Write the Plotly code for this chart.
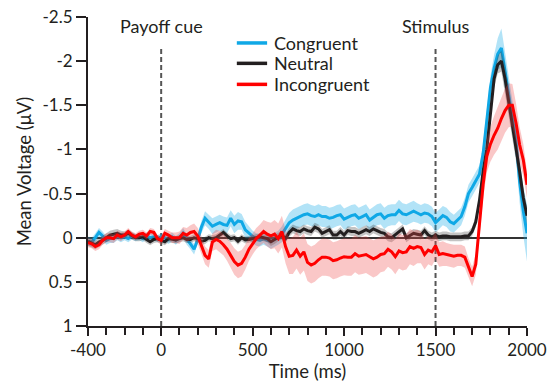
import plotly.graph_objects as go

# ---------------- data ----------------
time_ms = list(range(-400, 2001, 20))

congruent = [
    0.04, 0.05, 0.0, -0.06, -0.02, 0.03, 0.01, 0.01, -0.02, 0.0,
    -0.01, 0.01, -0.02, 0.0, -0.01, 0.01, -0.02, 0.0, -0.01, 0.01,
    -0.01, 0.0, 0.02, -0.01, 0.03, 0.0, -0.05, 0.02, 0.07, 0.13,
    0.02, -0.12, -0.22, -0.18, -0.13, -0.15, -0.17, -0.15, -0.14, -0.22,
    -0.15, -0.19, -0.18, -0.09, -0.05, -0.01, 0.02, 0.03, 0.01, 0.03,
    0.045, 0.02, 0.0, -0.04, -0.1, -0.17, -0.2, -0.22, -0.24, -0.26,
    -0.27, -0.25, -0.24, -0.26, -0.24, -0.24, -0.22, -0.23, -0.25, -0.26,
    -0.21, -0.23, -0.25, -0.26, -0.22, -0.24, -0.26, -0.2, -0.23, -0.26,
    -0.27, -0.22, -0.25, -0.26, -0.26, -0.31, -0.27, -0.26, -0.28, -0.3,
    -0.28, -0.26, -0.28, -0.27, -0.24, -0.17, -0.21, -0.25, -0.23, -0.18,
    -0.16, -0.2, -0.24, -0.35, -0.5, -0.57, -0.64, -0.72, -0.95, -1.3,
    -1.7, -1.92, -2.08, -2.15, -1.88, -1.62, -1.38, -1.1, -0.63, -0.3,
    -0.05,
]
congruent_sem = [
    0.05, 0.05, 0.05, 0.05, 0.05, 0.05, 0.05, 0.05, 0.05, 0.05,
    0.04, 0.04, 0.04, 0.04, 0.04, 0.04, 0.04, 0.04, 0.04, 0.04,
    0.04, 0.04, 0.05, 0.05, 0.05, 0.05, 0.06, 0.06, 0.06, 0.06,
    0.06, 0.07, 0.08, 0.08, 0.09, 0.09, 0.09, 0.09, 0.09, 0.09,
    0.1, 0.1, 0.09, 0.09, 0.08, 0.07, 0.07, 0.07, 0.07, 0.07,
    0.08, 0.08, 0.08, 0.09, 0.1, 0.11, 0.12, 0.12, 0.12, 0.12,
    0.12, 0.12, 0.12, 0.12, 0.12, 0.12, 0.12, 0.12, 0.12, 0.12,
    0.12, 0.12, 0.12, 0.12, 0.12, 0.12, 0.12, 0.12, 0.12, 0.12,
    0.12, 0.12, 0.12, 0.12, 0.12, 0.12, 0.12, 0.12, 0.12, 0.12,
    0.11, 0.11, 0.11, 0.11, 0.11, 0.11, 0.11, 0.11, 0.11, 0.11,
    0.1, 0.1, 0.1, 0.1, 0.1, 0.1, 0.1, 0.1, 0.11, 0.12,
    0.13, 0.15, 0.18, 0.22, 0.2, 0.18, 0.18, 0.2, 0.24, 0.28,
    0.32,
]

neutral = [
    0.04, 0.06, 0.08, 0.05, 0.03, 0.0, -0.03, -0.04, -0.05, -0.03,
    -0.03, -0.05, -0.02, 0.0, 0.0, -0.01, 0.02, 0.045, 0.02, 0.01,
    0.03, 0.045, 0.01, 0.02, 0.025, 0.01, 0.0, 0.02, 0.02, 0.0,
    0.01, 0.04, 0.03, 0.0, 0.01, 0.0, -0.03, -0.06, -0.02, 0.01,
    0.0, 0.04, 0.0, 0.025, 0.02, 0.01, 0.0, -0.01, 0.0, 0.01,
    0.045, 0.02, -0.01, -0.03, 0.01, -0.06, -0.1, -0.08, -0.07, -0.1,
    -0.08, -0.07, -0.12, -0.1, -0.05, -0.07, -0.09, -0.03, -0.03, -0.07,
    -0.03, -0.08, -0.07, -0.07, -0.05, -0.07, -0.09, -0.07, -0.1, -0.08,
    -0.06, -0.05, -0.01, 0.0, -0.03, -0.06, -0.1, 0.0, -0.03, -0.05,
    -0.04, -0.03, -0.08, -0.03, -0.01, -0.03, -0.01, -0.02, -0.02, -0.01,
    -0.01, -0.01, -0.01, -0.02, -0.02, -0.07, -0.18, -0.42, -0.75, -1.0,
    -1.43, -1.8, -1.96, -2.0, -1.8, -1.55, -1.27, -1.0, -0.75, -0.45,
    -0.25,
]
neutral_sem = [
    0.05, 0.05, 0.05, 0.05, 0.05, 0.05, 0.05, 0.05, 0.05, 0.05,
    0.04, 0.04, 0.04, 0.04, 0.04, 0.04, 0.04, 0.04, 0.04, 0.04,
    0.04, 0.04, 0.04, 0.04, 0.04, 0.04, 0.04, 0.04, 0.04, 0.04,
    0.04, 0.04, 0.04, 0.04, 0.04, 0.04, 0.04, 0.04, 0.04, 0.04,
    0.04, 0.04, 0.04, 0.04, 0.04, 0.04, 0.04, 0.04, 0.04, 0.04,
    0.05, 0.05, 0.05, 0.05, 0.05, 0.05, 0.05, 0.05, 0.05, 0.05,
    0.05, 0.05, 0.05, 0.05, 0.05, 0.05, 0.05, 0.05, 0.05, 0.05,
    0.05, 0.05, 0.05, 0.05, 0.05, 0.05, 0.05, 0.05, 0.05, 0.05,
    0.05, 0.05, 0.05, 0.05, 0.05, 0.05, 0.05, 0.05, 0.05, 0.05,
    0.05, 0.05, 0.05, 0.05, 0.05, 0.05, 0.05, 0.05, 0.05, 0.05,
    0.05, 0.05, 0.05, 0.05, 0.05, 0.05, 0.06, 0.07, 0.08, 0.09,
    0.1, 0.1, 0.1, 0.12, 0.16, 0.16, 0.15, 0.13, 0.11, 0.1,
    0.1,
]

incongruent = [
    0.057, 0.07, 0.1, 0.08, 0.03, 0.0, 0.0, 0.01, -0.03, -0.01,
    -0.03, -0.07, -0.03, -0.01, -0.04, -0.05, -0.02, -0.07, -0.06, 0.01,
    0.03, -0.05, -0.03, 0.0, 0.0, 0.0, -0.05, -0.03, -0.06, -0.07,
    -0.02, 0.08, 0.2, 0.24, 0.05, 0.02, 0.04, 0.08, 0.13, 0.2,
    0.27, 0.31, 0.29, 0.22, 0.13, 0.07, 0.01, -0.03, -0.07, -0.04,
    -0.02, -0.04, 0.01, -0.07, 0.1, 0.21, 0.2, 0.14, 0.21, 0.16,
    0.28, 0.31, 0.29, 0.25, 0.22, 0.22, 0.23, 0.26, 0.25, 0.23,
    0.215, 0.22, 0.22, 0.18, 0.21, 0.2, 0.19, 0.215, 0.24, 0.22,
    0.19, 0.18, 0.13, 0.16, 0.215, 0.15, 0.17, 0.16, 0.1, 0.12,
    0.1, 0.11, 0.19, 0.14, 0.16, 0.09, 0.19, 0.18, 0.19, 0.2,
    0.21, 0.2, 0.2, 0.22, 0.34, 0.44, 0.3, -0.15, -0.6, -0.92,
    -1.06, -1.16, -1.24, -1.35, -1.44, -1.5, -1.5, -1.3, -1.05, -0.88,
    -0.6,
]
incongruent_sem = [
    0.05, 0.05, 0.05, 0.05, 0.05, 0.05, 0.05, 0.05, 0.05, 0.05,
    0.04, 0.04, 0.04, 0.04, 0.04, 0.04, 0.04, 0.04, 0.04, 0.04,
    0.05, 0.05, 0.05, 0.06, 0.06, 0.07, 0.07, 0.08, 0.08, 0.09,
    0.09, 0.1, 0.1, 0.1, 0.1, 0.11, 0.12, 0.12, 0.13, 0.14,
    0.15, 0.15, 0.15, 0.14, 0.13, 0.12, 0.12, 0.12, 0.13, 0.14,
    0.15, 0.16, 0.17, 0.18, 0.19, 0.2, 0.21, 0.21, 0.21, 0.21,
    0.21, 0.21, 0.21, 0.21, 0.21, 0.21, 0.21, 0.21, 0.21, 0.21,
    0.21, 0.21, 0.21, 0.21, 0.21, 0.21, 0.21, 0.21, 0.21, 0.21,
    0.2, 0.2, 0.2, 0.2, 0.2, 0.2, 0.2, 0.2, 0.2, 0.2,
    0.19, 0.18, 0.17, 0.16, 0.16, 0.15, 0.14, 0.14, 0.13, 0.13,
    0.13, 0.12, 0.12, 0.12, 0.11, 0.11, 0.12, 0.14, 0.16, 0.18,
    0.2, 0.22, 0.24, 0.25, 0.25, 0.25, 0.24, 0.22, 0.2, 0.18,
    0.15,
]

series_names = ["Congruent", "Neutral", "Incongruent"]
y_tickvals = [-2.5, -2, -1.5, -1, -0.5, 0, 0.5, 1]
y_ticktext = ["-2.5", "-2", "-1.5", "-1", "-0.5", "0", "0.5", "1"]
x_tickvals = [-400, 0, 500, 1000, 1500, 2000]
x_ticktext = ["-400", "0", "500", "1000", "1500", "2000"]
x_minor_ticks = list(range(-400, 2001, 100))

event_times = [0, 1500]
event_labels = ["Payoff cue", "Stimulus"]

for arr in (congruent, congruent_sem, neutral, neutral_sem, incongruent, incongruent_sem):
    assert len(arr) == len(time_ms), len(arr)

# ---------------- styling ----------------
FONT = "Lato"
INK = "#231F20"
line_colors = ["#0FA8E6", "#231F20", "#FF0000"]
band_colors = ["rgba(20,170,232,0.33)", "rgba(60,60,60,0.30)", "rgba(240,70,70,0.30)"]
means = [congruent, neutral, incongruent]
sems = [congruent_sem, neutral_sem, incongruent_sem]

fig = go.Figure()
for name, mean, sem, color, band in zip(series_names, means, sems, line_colors, band_colors):
    upper = [m - s for m, s in zip(mean, sem)]
    lower = [m + s for m, s in zip(mean, sem)]
    fig.add_trace(go.Scatter(
        x=time_ms + time_ms[::-1], y=upper + lower[::-1],
        fill="toself", fillcolor=band, line=dict(width=0),
        mode="lines", hoverinfo="skip", showlegend=False))
    fig.add_trace(go.Scatter(
        x=time_ms, y=mean, mode="lines", name=name, showlegend=False,
        line=dict(color=color, width=3)))

# event markers (dashed) and their labels
for t, label in zip(event_times, event_labels):
    fig.add_shape(type="line", x0=t, x1=t, y0=1, y1=-2.14, xref="x", yref="y",
                  line=dict(color="#555555", width=2, dash="5px,3px"), layer="below")
    fig.add_annotation(x=t, y=-2.4, xref="x", yref="y", text=label, showarrow=False,
                       font=dict(family=FONT, size=18, color=INK),
                       xanchor="center", yanchor="middle")

# compact legend (key line + label), placed like the original
LEG_X0, LEG_X1, LEG_TX = 0.339, 0.408, 0.418
leg_rows = [0.916, 0.850, 0.782]
for name, color, yy in zip(series_names, line_colors, leg_rows):
    fig.add_shape(type="line", xref="paper", yref="paper", x0=LEG_X0, x1=LEG_X1,
                  y0=yy, y1=yy, line=dict(color=color, width=3.5))
    fig.add_annotation(xref="paper", yref="paper", x=LEG_TX, y=yy, text=name,
                       showarrow=False, xanchor="left", yanchor="middle",
                       font=dict(family=FONT, size=18, color=INK))

fig.update_layout(
    width=551, height=385,
    margin=dict(l=88, r=24, t=17, b=59),
    paper_bgcolor="white", plot_bgcolor="white",
    font=dict(family=FONT, size=17, color=INK),
    showlegend=False,
    xaxis=dict(range=[-400, 2000], showgrid=False, zeroline=False, automargin=False,
               showline=True, linecolor=INK, linewidth=2,
               ticks="outside", ticklen=8, tickwidth=1.5, tickcolor=INK,
               tickvals=x_tickvals, ticktext=x_ticktext,
               tickfont=dict(family=FONT, size=17, color=INK),
               minor=dict(tickvals=x_minor_ticks, ticks="outside", ticklen=7,
                          tickwidth=1.5, tickcolor=INK),
               title=dict(text="Time (ms)", standoff=6,
                          font=dict(family=FONT, size=18.5, color=INK))),
    yaxis=dict(range=[1, -2.5], showgrid=False, automargin=False,
               zeroline=True, zerolinecolor="#333333", zerolinewidth=1.5,
               showline=True, linecolor=INK, linewidth=2,
               ticks="outside", ticklen=10, tickwidth=1.5, tickcolor=INK,
               tickvals=y_tickvals, ticktext=y_ticktext,
               tickfont=dict(family=FONT, size=17, color=INK),
               title=dict(text="Mean Voltage (μV)", standoff=6,
                          font=dict(family=FONT, size=18.5, color=INK))),
)

fig.write_html("out.html")
